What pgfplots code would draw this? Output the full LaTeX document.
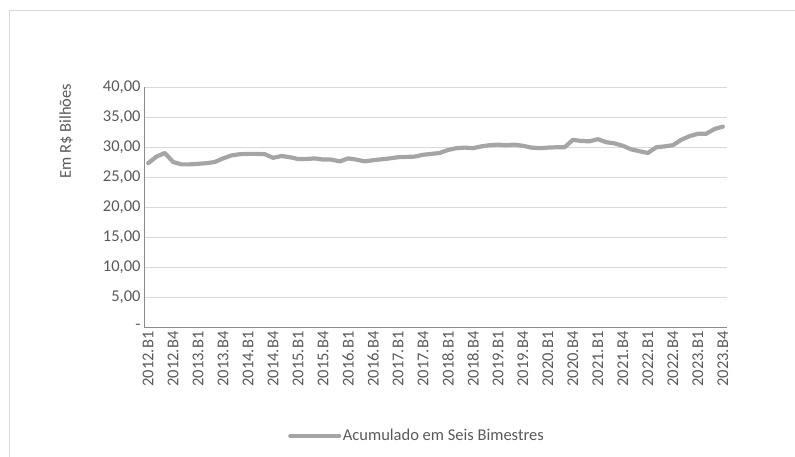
\documentclass[border=0pt]{standalone}
\usepackage{pgfplots}
\pgfplotsset{compat=1.18}
\usepackage{pgfplotstable}
\usepackage{fontspec}
\setmainfont{Carlito}
\definecolor{serie}{HTML}{A5A5A5}
\definecolor{grade}{HTML}{D9D9D9}
\definecolor{eixo}{HTML}{8C8C8C}
\definecolor{texto}{HTML}{595959}
\definecolor{moldura}{HTML}{D9D9D9}

% Receita acumulada em seis bimestres (R$ bilhões), 2012.B1 a 2023.B4
\pgfplotstableread{
i v
0 27.3
1 28.4
2 29.0
3 27.5
4 27.1
5 27.1
6 27.2
7 27.3
8 27.5
9 28.1
10 28.6
11 28.8
12 28.85
13 28.85
14 28.8
15 28.2
16 28.5
17 28.3
18 28.0
19 28.0
20 28.1
21 27.9
22 27.9
23 27.6
24 28.1
25 27.9
26 27.6
27 27.8
28 27.95
29 28.1
30 28.3
31 28.35
32 28.4
33 28.7
34 28.85
35 29.0
36 29.5
37 29.8
38 29.9
39 29.8
40 30.1
41 30.3
42 30.4
43 30.3
44 30.4
45 30.2
46 29.9
47 29.8
48 29.9
49 29.95
50 29.95
51 31.2
52 31.0
53 30.95
54 31.3
55 30.8
56 30.6
57 30.2
58 29.6
59 29.3
60 29.0
61 29.95
62 30.1
63 30.3
64 31.2
65 31.8
66 32.2
67 32.2
68 33.0
69 33.4
}\serie

\newcommand{\fonte}{\fontsize{16.5}{18}\selectfont}

\begin{document}
\begin{tikzpicture}[x=1pt,y=1pt]
\useasboundingbox (0,0) rectangle (795,457);
\draw[moldura, line width=0.8pt] (9,-5) -- (9,447) -- (800,447);
\begin{axis}[
  at={(144pt,130pt)}, anchor=south west,
  width=583pt, height=240pt, scale only axis,
  xmin=-0.5, xmax=69.5, ymin=0, ymax=40,
  axis lines*=left,
  axis line style={eixo, line width=0.8pt},
  x axis line style={-}, y axis line style={-},
  ytick={0,5,...,40},
  yticklabels={-,{5,00},{10,00},{15,00},{20,00},{25,00},{30,00},{35,00},{40,00}},
  xtick={0,3,...,69},
  xticklabels={2012.B1,2012.B4,2013.B1,2013.B4,2014.B1,2014.B4,2015.B1,2015.B4,2016.B1,2016.B4,2017.B1,2017.B4,2018.B1,2018.B4,2019.B1,2019.B4,2020.B1,2020.B4,2021.B1,2021.B4,2022.B1,2022.B4,2023.B1,2023.B4},
  x tick label style={rotate=90, anchor=east, font=\fonte, text=texto, xshift=-1pt},
  y tick label style={font=\fonte, text=texto},
  major tick length=0pt,
  ymajorgrids, major grid style={grade, line width=0.8pt},
  tick align=outside,
  /pgf/number format/assume math mode=true,
  legend style={at={(0.247,-0.454)}, anchor=west, draw=none, fill=none,
    font=\fonte, text=texto, inner sep=0pt,
    /tikz/every even column/.append style={column sep=0pt},
    legend cell align=left},
  legend image code/.code={\draw[#1, line width=4.2pt] (0pt,0pt) -- (49pt,0pt);},
  clip=false,
]
\addplot[serie, line width=4.2pt, line join=round, line cap=round] table[x=i, y=v] {\serie};
\addlegendentry{\hspace{-0.5pt}Acumulado em Seis Bimestres}
\end{axis}
\node[rotate=90, text=texto, font=\fonte] at (66,326) {Em R\$ Bilhões};
\end{tikzpicture}
\end{document}
